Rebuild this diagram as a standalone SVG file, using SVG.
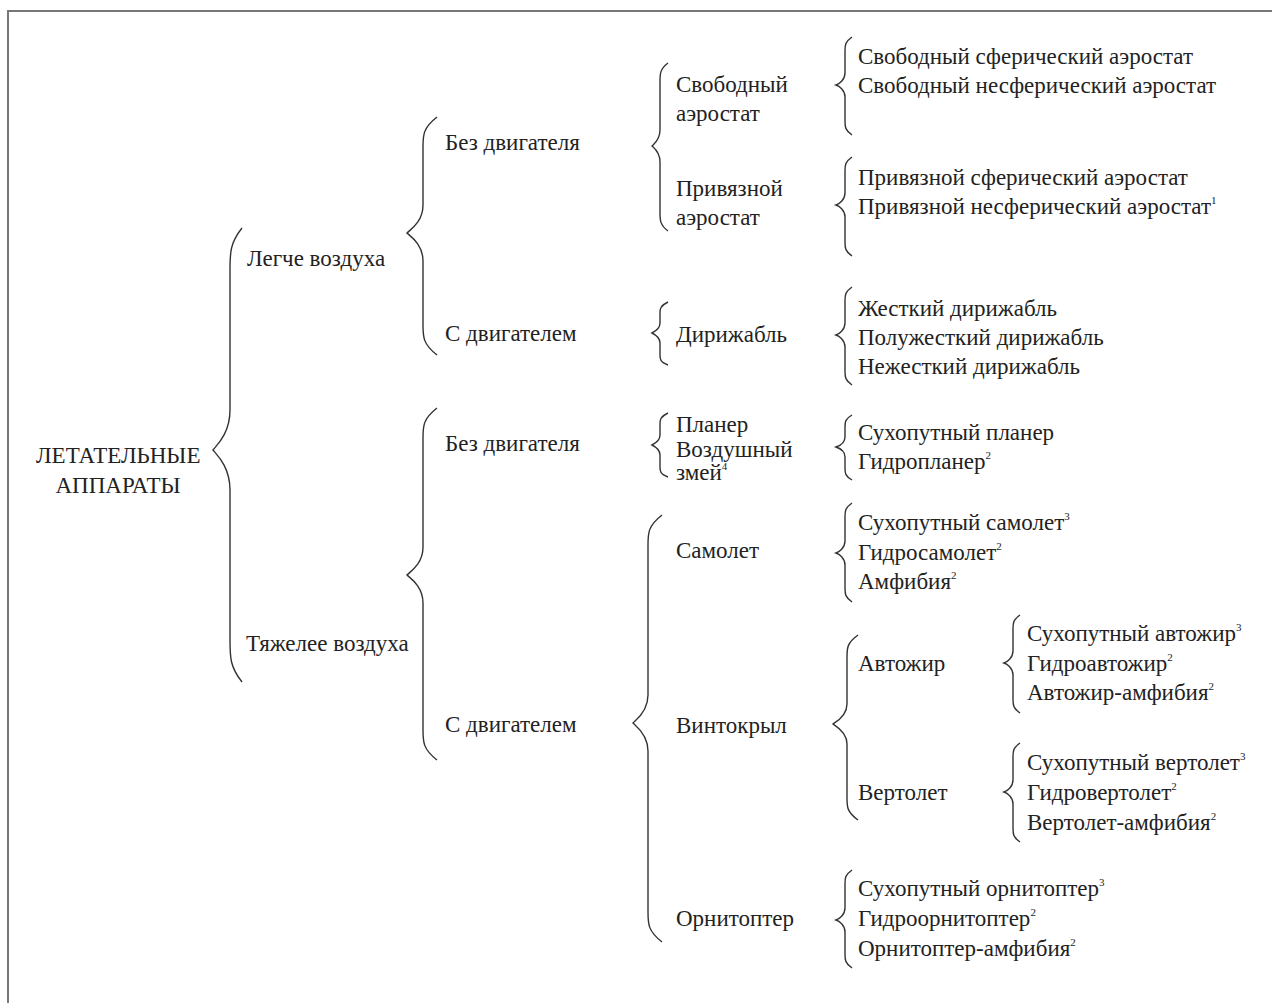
<svg xmlns="http://www.w3.org/2000/svg" width="1272" height="1003" viewBox="0 0 1272 1003">
<style>
text{font-family:"Liberation Serif","Times New Roman",serif;font-size:23px;fill:#222}
.sup{font-size:11px}
.brace{fill:none;stroke:#333;stroke-width:1.4}
</style>
<rect x="0" y="0" width="1272" height="1003" fill="#fff"/>
<rect x="8" y="11" width="1300" height="1050" fill="none" stroke="#777" stroke-width="2"/>
<g id="connectors">
<path class="brace" d="M242,228 C230,243 230,253 230,270 L230,410 C230,434 216,446 213,450 C216,454 230,466 230,490 L230,640 C230,657 230,667 242,682"/>
<path class="brace" d="M437,117 C423,128 423,135 423,147 L423,205 C423,222 410,230 407,233 C410,236 423,244 423,261 L423,325 C423,337 423,344 437,355"/>
<path class="brace" d="M437,408 C423,419 423,426 423,438 L423,547 C423,564 410,572 407,575 C410,578 423,586 423,603 L423,730 C423,742 423,749 437,760"/>
<path class="brace" d="M668,63 C660,69 660,74 660,81 L660,130 C660,140 654,144 652,146 C654,148 660,152 660,162 L660,213 C660,220 660,225 668,231"/>
<path class="brace" d="M668,302 C660,306 660,309 660,313 L660,323 C660,329 654,332 652,333 C654,334 660,337 660,343 L660,355 C660,359 660,362 668,365"/>
<path class="brace" d="M668,413 C660,417 660,420 660,424 L660,435 C660,441 654,444 652,445 C654,446 660,449 660,455 L660,467 C660,471 660,474 668,477"/>
<path class="brace" d="M662,515 C648,526 648,533 648,545 L648,695 C648,712 636,720 633,723 C636,726 648,734 648,751 L648,912 C648,924 648,931 662,942"/>
<path class="brace" d="M852,37 C845,42 845,45 845,51 L845,73 C845,80 839,84 836,85 C839,86 845,90 845,97 L845,121 C845,127 845,130 852,135"/>
<path class="brace" d="M852,157 C845,162 845,165 845,171 L845,193 C845,200 839,204 836,205 C839,206 845,210 845,217 L845,242 C845,248 845,251 852,256"/>
<path class="brace" d="M852,287 C845,292 845,295 845,301 L845,323 C845,330 839,334 836,335 C839,336 845,340 845,347 L845,371 C845,377 845,380 852,385"/>
<path class="brace" d="M852,415 C845,419 845,422 845,427 L845,437 C845,443 839,446 836,447 C839,448 845,451 845,457 L845,468 C845,473 845,476 852,480"/>
<path class="brace" d="M852,503 C845,508 845,511 845,517 L845,541 C845,548 839,552 836,553 C839,554 845,558 845,565 L845,588 C845,594 845,597 852,602"/>
<path class="brace" d="M858,635 C847,643 847,648 847,657 L847,704 C847,716 836,722 833,724 C836,726 847,732 847,744 L847,798 C847,807 847,812 858,820"/>
<path class="brace" d="M1020,615 C1013,620 1013,623 1013,629 L1013,651 C1013,658 1007,662 1004,663 C1007,664 1013,668 1013,675 L1013,699 C1013,705 1013,708 1020,713"/>
<path class="brace" d="M1020,743 C1013,748 1013,751 1013,757 L1013,780 C1013,787 1007,791 1004,792 C1007,793 1013,797 1013,804 L1013,828 C1013,834 1013,837 1020,842"/>
<path class="brace" d="M852,870 C845,875 845,878 845,884 L845,908 C845,915 839,919 836,920 C839,921 845,925 845,932 L845,954 C845,960 845,963 852,968"/>
</g>
<g id="root"><text x="36" y="463">ЛЕТАТЕЛЬНЫЕ</text><text x="118" y="493" text-anchor="middle">АППАРАТЫ</text></g>
<g id="lighter"><text x="247" y="266">Легче воздуха</text></g>
<g id="heavier"><text x="246" y="651">Тяжелее воздуха</text></g>
<g id="lighter-noengine"><text x="445" y="150">Без двигателя</text></g>
<g id="lighter-engine"><text x="445" y="341">С двигателем</text></g>
<g id="heavier-noengine"><text x="445" y="451">Без двигателя</text></g>
<g id="heavier-engine"><text x="445" y="732">С двигателем</text></g>
<g id="free-aerostat"><text x="676" y="92">Свободный</text><text x="676" y="121">аэростат</text></g>
<g id="tethered-aerostat"><text x="676" y="196">Привязной</text><text x="676" y="225">аэростат</text></g>
<g id="airship"><text x="676" y="342">Дирижабль</text></g>
<g id="glider-kite"><text x="676" y="432">Планер</text><text x="676" y="457">Воздушный</text><text x="676" y="480">змей<tspan class="sup" dy="-10">4</tspan></text></g>
<g id="airplane"><text x="676" y="558">Самолет</text></g>
<g id="rotorcraft"><text x="676" y="733">Винтокрыл</text></g>
<g id="ornithopter"><text x="676" y="926">Орнитоптер</text></g>
<g id="free-leaves"><text x="858" y="64">Свободный сферический аэростат</text><text x="858" y="93">Свободный несферический аэростат</text></g>
<g id="tethered-leaves"><text x="858" y="185">Привязной сферический аэростат</text><text x="858" y="214">Привязной несферический аэростат<tspan class="sup" dy="-10">1</tspan></text></g>
<g id="airship-leaves"><text x="858" y="316">Жесткий дирижабль</text><text x="858" y="345">Полужесткий дирижабль</text><text x="858" y="374">Нежесткий дирижабль</text></g>
<g id="glider-leaves"><text x="858" y="440">Сухопутный планер</text><text x="858" y="469">Гидропланер<tspan class="sup" dy="-10">2</tspan></text></g>
<g id="airplane-leaves"><text x="858" y="530">Сухопутный самолет<tspan class="sup" dy="-10">3</tspan></text><text x="858" y="560">Гидросамолет<tspan class="sup" dy="-10">2</tspan></text><text x="858" y="589">Амфибия<tspan class="sup" dy="-10">2</tspan></text></g>
<g id="autogyro"><text x="858" y="671">Автожир</text></g>
<g id="helicopter"><text x="858" y="800">Вертолет</text></g>
<g id="autogyro-leaves"><text x="1027" y="641">Сухопутный автожир<tspan class="sup" dy="-10">3</tspan></text><text x="1027" y="671">Гидроавтожир<tspan class="sup" dy="-10">2</tspan></text><text x="1027" y="700">Автожир-амфибия<tspan class="sup" dy="-10">2</tspan></text></g>
<g id="helicopter-leaves"><text x="1027" y="770">Сухопутный вертолет<tspan class="sup" dy="-10">3</tspan></text><text x="1027" y="800">Гидровертолет<tspan class="sup" dy="-10">2</tspan></text><text x="1027" y="830">Вертолет-амфибия<tspan class="sup" dy="-10">2</tspan></text></g>
<g id="ornithopter-leaves"><text x="858" y="896">Сухопутный орнитоптер<tspan class="sup" dy="-10">3</tspan></text><text x="858" y="926">Гидроорнитоптер<tspan class="sup" dy="-10">2</tspan></text><text x="858" y="956">Орнитоптер-амфибия<tspan class="sup" dy="-10">2</tspan></text></g>
</svg>
